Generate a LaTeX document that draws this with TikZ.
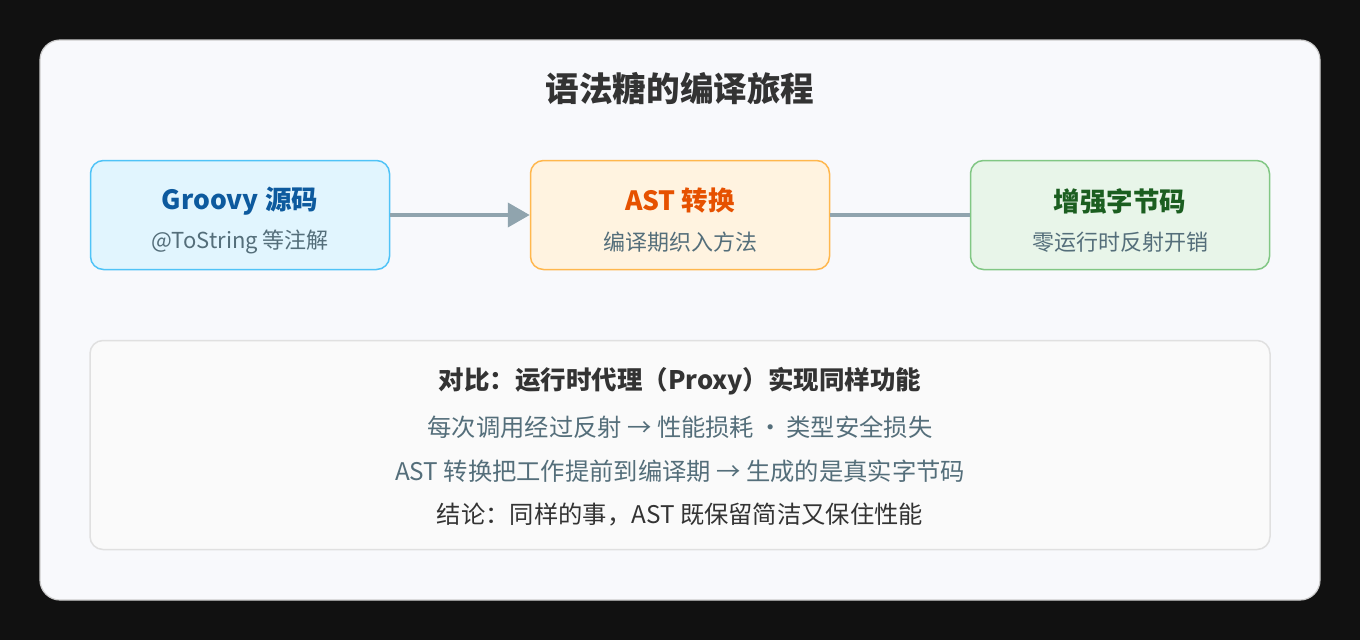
\documentclass[tikz,border=0pt]{standalone}
\usepackage{fontspec}
\setmainfont{Noto Sans CJK SC}
\usetikzlibrary{arrows.meta}
\definecolor{outer}{HTML}{111111}
\definecolor{card}{HTML}{F8F9FC}
\definecolor{cardb}{HTML}{CCCCCC}
\definecolor{txt}{HTML}{333333}
\definecolor{sub}{HTML}{546E7A}
\definecolor{conn}{HTML}{90A4AE}
\definecolor{af}{HTML}{E1F5FE}\definecolor{ab}{HTML}{4FC3F7}\definecolor{at}{HTML}{0D5A9E}
\definecolor{bf}{HTML}{FFF3E0}\definecolor{bb}{HTML}{FFB74D}\definecolor{bt}{HTML}{E65100}
\definecolor{cf}{HTML}{E8F5E9}\definecolor{cb}{HTML}{81C784}\definecolor{ct}{HTML}{1B5E20}
\definecolor{df}{HTML}{FAFAFA}\definecolor{db}{HTML}{E0E0E0}
\begin{document}
\begin{tikzpicture}[x=1pt,y=-1pt,
  box/.style={draw,line width=1.5pt,rounded corners=13pt,minimum width=299pt,minimum height=109pt},
  ttl/.style={font=\fontsize{26.5}{30}\selectfont\bfseries},
  sb/.style={font=\fontsize{22}{26}\selectfont,text=sub},
  ln/.style={font=\fontsize{24.3}{28}\selectfont,text=sub}]
\fill[outer] (0,0) rectangle (1360,640);
\useasboundingbox (0,0) rectangle (1360,640);
\node[draw=cardb,fill=card,line width=1.2pt,rounded corners=20pt,minimum width=1280pt,minimum height=560pt] (card) at (680,320) {};
\node[font=\fontsize{33.6}{38}\selectfont\bfseries,text=txt] (title) at (680,89) {语法糖的编译旅程};
\node[box,draw=ab,fill=af] (a) at (240,215) {};
\node[box,draw=bb,fill=bf] (b) at (680,215) {};
\node[box,draw=cb,fill=cf] (c) at (1120,215) {};
\node[ttl,text=at] (at) at (240,201) {Groovy 源码};
\node[sb] (as) at (240,242) {@ToString 等注解};
\node[ttl,text=bt] (bt) at (680,201) {AST 转换};
\node[sb] (bs) at (680,242) {编译期织入方法};
\node[ttl,text=ct] (ct) at (1120,201) {增强字节码};
\node[sb] (cs) at (1120,242) {零运行时反射开销};
\draw[conn,line width=4pt,-{Triangle[length=22pt,width=24pt]}] (a.east) -- (b.west);
\draw[conn,line width=4pt] (b.east) -- (c.west);
\node[draw=db,fill=df,line width=1.5pt,rounded corners=13pt,minimum width=1180pt,minimum height=209pt] (d) at (680,445) {};
\node[font=\fontsize{25.5}{29}\selectfont\bfseries,text=txt] (l1) at (680,381) {对比：运行时代理（Proxy）实现同样功能};
\node[ln] (l2) at (680,427) {每次调用经过反射 → 性能损耗\,·\,类型安全损失};
\node[ln] (l3) at (680,471) {AST 转换把工作提前到编译期 → 生成的是真实字节码};
\node[ln,text=txt] (l4) at (680,515) {结论：同样的事，AST 既保留简洁又保住性能};
\end{tikzpicture}
\end{document}
